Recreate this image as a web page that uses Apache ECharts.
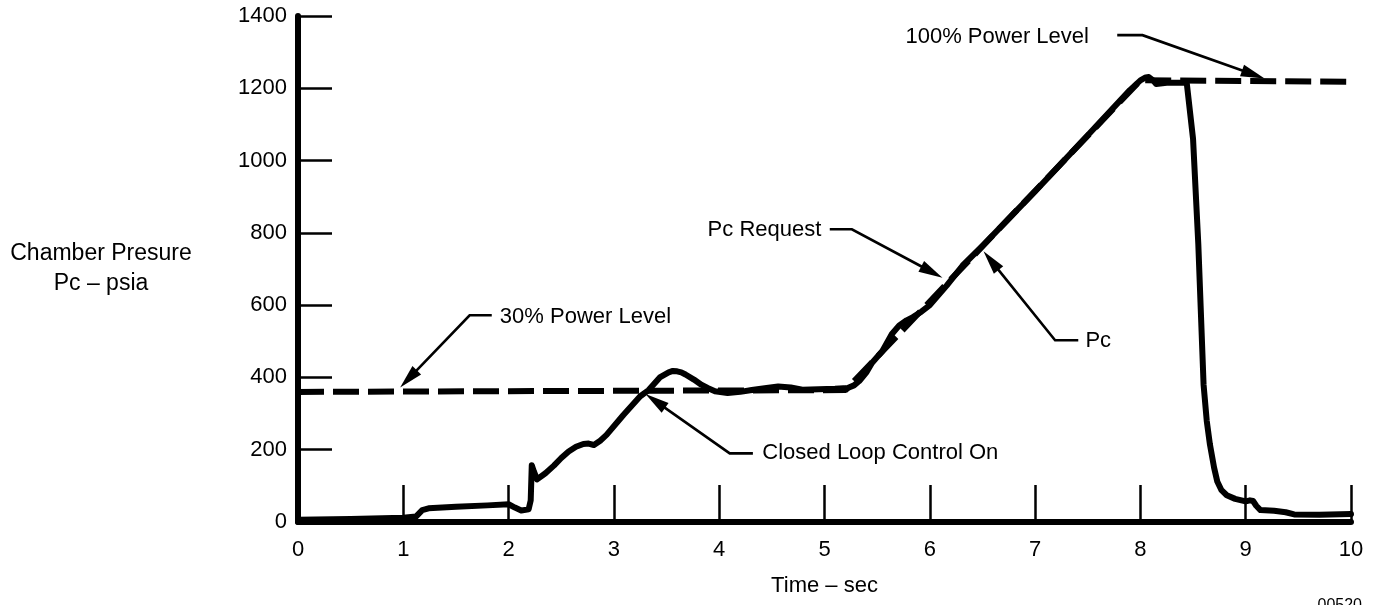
<!DOCTYPE html>
<html>
<head>
<meta charset="utf-8">
<script src="https://cdn.jsdelivr.net/npm/echarts@6/dist/echarts.min.js"></script>
<style>
  html, body { margin: 0; padding: 0; background: #fff; }
  #chart { width: 1381px; height: 605px; }
</style>
</head>
<body>
<div id="chart"></div>
<script>
// ---- Data ----
const xTicks = [0, 1, 2, 3, 4, 5, 6, 7, 8, 9, 10];
const yTicks = [0, 200, 400, 600, 800, 1000, 1200, 1400];

// Measured chamber pressure Pc (time in sec, psia)
const pcTime = [0, 0.5, 1.0, 1.12, 1.15, 1.18, 1.24, 1.5, 1.8, 2.0, 2.06, 2.12, 2.19, 2.21, 2.22, 2.24, 2.27, 2.35, 2.43, 2.5, 2.57, 2.64, 2.71, 2.76, 2.81, 2.87, 2.93, 3.09, 3.25, 3.33, 3.44, 3.52, 3.56, 3.6, 3.64, 3.68, 3.76, 3.83, 3.89, 3.96, 4.08, 4.2, 4.31, 4.45, 4.56, 4.68, 4.79, 5.1, 5.22, 5.28, 5.33, 5.4, 5.45, 5.55, 5.64, 5.71, 5.78, 5.84, 5.92, 6.0, 6.16, 6.31, 6.5, 7.0, 7.5, 7.9, 8.0, 8.05, 8.08, 8.12, 8.15, 8.25, 8.44, 8.5, 8.55, 8.6, 8.63, 8.66, 8.7, 8.73, 8.77, 8.82, 8.9, 9.0, 9.04, 9.07, 9.1, 9.14, 9.27, 9.38, 9.46, 9.7, 10];
const pcValue = [6, 8, 12, 15, 24, 33, 38, 42, 46, 49, 40, 32, 35, 60, 157, 140, 118, 135, 156, 177, 195, 208, 216, 217, 213, 225, 241, 296, 348, 365, 401, 414, 418, 417, 414, 408, 394, 380, 371, 362, 357, 360, 365, 371, 375, 372, 366, 369, 371, 378, 390, 415, 440, 473, 520, 544, 558, 567, 582, 600, 654, 709, 764, 915, 1070, 1195, 1222, 1230, 1231, 1222, 1212, 1215, 1215, 1060, 768, 380, 280, 215, 150, 112, 88, 74, 64, 57, 60, 58, 45, 33, 31, 27, 21, 20, 22];

// Pc request (dashed)
const reqTime = [0, 5.2, 8.0, 10];
const reqValue = [360, 365, 1222, 1218];

// Annotations: text, text centre (data coords), leader path ending at arrow tip (data coords)
const annTexts = ['100% Power Level', 'Pc Request', 'Pc', '30% Power Level', 'Closed Loop Control On'];
const annTextPos = [[6.64, 1342], [4.43, 807], [7.6, 502], [2.73, 566], [5.53, 190]];
const annLeaders = [
  [[7.78, 1347], [8.02, 1347], [9.18, 1227]],
  [[5.05, 810], [5.26, 810], [6.12, 676]],
  [[7.41, 503], [7.19, 503], [6.51, 749]],
  [[1.84, 572], [1.63, 572], [0.97, 372]],
  [[4.32, 190], [4.10, 190], [3.30, 354]]
];

const FONT = '"Liberation Sans", Arial, Helvetica, sans-serif';

const pcData = pcTime.map((t, i) => [t, pcValue[i]]);
const reqData = reqTime.map((t, i) => [t, reqValue[i]]);

function renderAnn(params, api) {
  const i = params.dataIndex;
  const pts = annLeaders[i].map(p => api.coord(p));
  const n = pts.length;
  const tip = pts[n - 1], prev = pts[n - 2];
  const dx = tip[0] - prev[0], dy = tip[1] - prev[1];
  const len = Math.hypot(dx, dy);
  const ux = dx / len, uy = dy / len;
  const L = 24, W = 6;
  const base = [tip[0] - ux * L, tip[1] - uy * L];
  const head = [tip, [base[0] - uy * W, base[1] + ux * W], [base[0] + uy * W, base[1] - ux * W]];
  const linePts = pts.slice(0, n - 1).concat([[tip[0] - ux * (L - 4), tip[1] - uy * (L - 4)]]);
  const tp = api.coord(annTextPos[i]);
  return {
    type: 'group',
    children: [
      { type: 'polyline', shape: { points: linePts }, style: { stroke: '#000', lineWidth: 2.6, fill: null } },
      { type: 'polygon', shape: { points: head }, style: { fill: '#000' } },
      { type: 'text', x: tp[0], y: tp[1], style: { text: annTexts[i], fill: '#000', fontSize: 22, fontFamily: FONT, align: 'center', verticalAlign: 'middle' } }
    ]
  };
}

const chart = echarts.init(document.getElementById('chart'), null, { renderer: 'canvas' });
chart.setOption({
  backgroundColor: '#fff',
  animation: false,
  grid: { left: 298, right: 30, top: 16, bottom: 83, containLabel: false },
  xAxis: {
    type: 'value', min: xTicks[0], max: xTicks[xTicks.length - 1], interval: 1,
    name: 'Time – sec', nameLocation: 'middle', nameGap: 53,
    nameTextStyle: { color: '#000', fontSize: 22, fontFamily: FONT },
    axisLine: { lineStyle: { color: '#000', width: 6 } },
    axisTick: { inside: true, length: 37, lineStyle: { color: '#000', width: 2.5 } },
    axisLabel: { color: '#000', fontSize: 22, fontFamily: FONT, margin: 17, formatter: v => String(v) },
    splitLine: { show: false }
  },
  yAxis: {
    type: 'value', min: yTicks[0], max: yTicks[yTicks.length - 1], interval: 200,
    name: 'Chamber Presure\nPc – psia', nameLocation: 'middle', nameRotate: 0, nameGap: 197,
    nameTextStyle: { color: '#000', fontSize: 23, fontFamily: FONT, align: 'center', lineHeight: 30, padding: [22, 0, 0, 0] },
    axisLine: { lineStyle: { color: '#000', width: 6 } },
    axisTick: { inside: true, length: 34, lineStyle: { color: '#000', width: 2.5 } },
    axisLabel: { color: '#000', fontSize: 22, fontFamily: FONT, margin: 11, formatter: v => String(v) },
    splitLine: { show: false }
  },
  graphic: [
    { type: 'text', right: 19, top: 598, style: { text: '00520', fill: '#000', fontSize: 16, fontFamily: FONT } }
  ],
  series: [
    {
      name: 'Pc Request', type: 'line', data: reqData, symbol: 'none', z: 3,
      lineStyle: { color: '#000', width: 6, type: [26, 9], cap: 'butt' }
    },
    {
      name: 'Pc', type: 'line', data: pcData, symbol: 'none', z: 4,
      lineStyle: { color: '#000', width: 6, join: 'round', cap: 'round' }
    },
    {
      name: 'annotations', type: 'custom', renderItem: renderAnn, silent: true, clip: false, z: 5,
      data: annTexts.map((t, i) => [i, 0])
    }
  ]
});
</script>
</body>
</html>
